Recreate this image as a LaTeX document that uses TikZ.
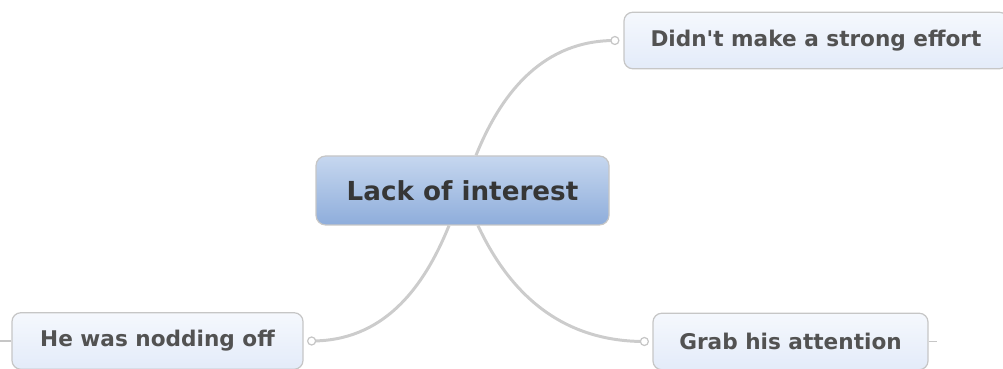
\documentclass[tikz,border=0pt]{standalone}
\usepackage{fontspec}
\setmainfont{DejaVu Sans}
\usetikzlibrary{positioning}
\definecolor{ctopic}{HTML}{C6D7EF}
\definecolor{ctopicd}{HTML}{8EADDB}
\definecolor{csub}{HTML}{F5F8FD}
\definecolor{csubd}{HTML}{E3EBF9}
\definecolor{cedge}{HTML}{C6C6C6}
\definecolor{cbranch}{HTML}{CCCCCC}
\definecolor{ctext}{HTML}{363636}
\definecolor{csubtext}{HTML}{525252}
\newcommand{\head}{\bfseries}

\begin{document}
\begin{tikzpicture}[
  x=0.2mm, y=-0.2mm,
  topic/.style={draw=cedge, line width=0.7pt, rounded corners=5.5pt,
                top color=ctopic, bottom color=ctopicd, text=ctext,
                minimum width=58.6mm, minimum height=13.8mm,
                font=\fontsize{14.9}{18}\selectfont\head},
  sub/.style={draw=cedge, line width=0.7pt, rounded corners=5pt,
              top color=csub, bottom color=csubd, text=csubtext,
              minimum width=#1, minimum height=11.3mm,
              font=\fontsize{12.3}{15}\selectfont\head},
  branch/.style={draw=cbranch, line width=1.7pt},
  knob/.style={draw=cedge, fill=white, line width=0.7pt},
  stub/.style={draw=cedge, line width=0.8pt},
]
\path[use as bounding box, clip] (0,0) rectangle (1003,369);

% ------------------------------------------------------------ topics
\node[topic] (interest) at (462.5,190.5) {Lack of interest};
\node[sub=76.8mm] (effort) at (816,40.5) {Didn\textquotesingle t make a strong effort};
\node[sub=58.2mm] (nodding) at (157.5,341) {He was nodding off};
\node[sub=55mm] (grab) at (790.5,341.5) {Grab his attention};

% ------------------------------------------------------------ branches
\coordinate (k1) at ([xshift=-1.7mm]effort.west);
\coordinate (k2) at ([xshift=1.6mm]nodding.east);
\coordinate (k3) at ([xshift=-1.6mm]grab.west);
\draw[branch] ([xshift=2.7mm]interest.north) to[out=68, in=180] (k1);
\draw[branch] ([xshift=-2.7mm]interest.south) to[out=-112, in=0] (k2);
\draw[branch] ([xshift=3.1mm]interest.south) to[out=-65, in=180] (k3);
\foreach \k in {k1,k2,k3}
  \draw[knob] (\k) circle[radius=0.8mm];

% short stubs on the outer sides
\coordinate[left=2.6mm of nodding.west] (s1);
\coordinate[right=1.6mm of grab.east] (s2);
\draw[stub] (nodding.west) -- (s1);
\draw[stub] (grab.east) -- (s2);
\end{tikzpicture}
\end{document}
